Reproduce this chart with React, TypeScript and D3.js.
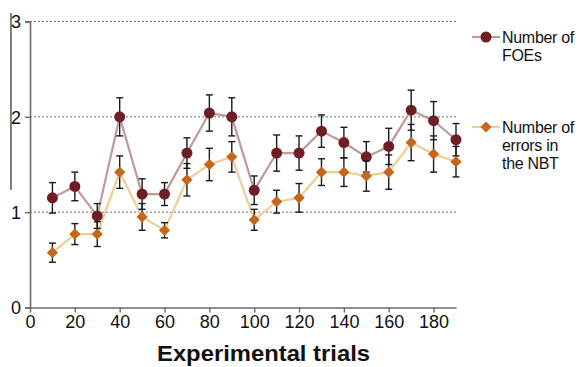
import { useEffect, useRef } from "react"
import * as d3 from "d3"

const trials = [10, 20, 30, 40, 50, 60, 70, 80, 90, 100, 110, 120, 130, 140, 150, 160, 170, 180, 190]
const foeMean = [1.15, 1.27, 0.96, 2.0, 1.19, 1.19, 1.62, 2.04, 2.0, 1.23, 1.62, 1.62, 1.85, 1.73, 1.58, 1.69, 2.07, 1.96, 1.76]
const foeErr = [0.16, 0.15, 0.13, 0.2, 0.16, 0.12, 0.16, 0.19, 0.2, 0.15, 0.19, 0.18, 0.17, 0.16, 0.16, 0.19, 0.21, 0.2, 0.17]
const nbtMean = [0.575, 0.77, 0.77, 1.42, 0.95, 0.81, 1.34, 1.5, 1.58, 0.92, 1.11, 1.15, 1.42, 1.42, 1.38, 1.42, 1.73, 1.61, 1.53]
const nbtErr = [0.1, 0.11, 0.13, 0.17, 0.14, 0.08, 0.17, 0.17, 0.16, 0.11, 0.12, 0.15, 0.14, 0.15, 0.16, 0.18, 0.19, 0.19, 0.16]
const xTicks = [0, 20, 40, 60, 80, 100, 120, 140, 160, 180]
const yTicks = [0, 1, 2, 3]

interface Series {
  mean: number[]
  err: number[]
  line: string
  fill: string
  shape: "circle" | "diamond"
  label: string[]
}

const series: Series[] = [
  { mean: foeMean, err: foeErr, line: "#bf9a9d", fill: "#6e1e24", shape: "circle", label: ["Number of", "FOEs"] },
  { mean: nbtMean, err: nbtErr, line: "#f2cc96", fill: "#c4661c", shape: "diamond", label: ["Number of", "errors in", "the NBT"] },
]

const App = () => {
  const svgRef = useRef<SVGSVGElement | null>(null)

  useEffect(() => {
    if (!svgRef.current) return
    const svg = d3.select(svgRef.current)
    svg.selectAll("*").remove()

    const x = d3.scaleLinear().domain([0, 190]).range([30, 456])
    const y = d3.scaleLinear().domain([0, 3]).range([307.5, 21.5])
    const font = "Arial, 'Liberation Sans', sans-serif"

    // stray line at the left edge
    svg.append("line").attr("x1", 11).attr("x2", 11).attr("y1", 13).attr("y2", 190)
      .attr("stroke", "#555").attr("stroke-width", 1.5)

    // grid
    svg.append("g").selectAll("line").data([1, 2, 3]).join("line")
      .attr("x1", x(0)).attr("x2", x(190))
      .attr("y1", (d) => y(d)).attr("y2", (d) => y(d))
      .attr("stroke", "#777").attr("stroke-width", 1).attr("stroke-dasharray", "2,2")

    // axes
    const yAxis = svg.append("g").attr("transform", `translate(${x(0)},0)`)
      .call(d3.axisLeft(y).tickValues(yTicks).tickSize(5).tickFormat(d3.format("d")))
    const xAxis = svg.append("g").attr("transform", `translate(0,${y(0)})`)
      .call(d3.axisBottom(x).tickValues(xTicks).tickSize(5).tickSizeOuter(0).tickFormat(d3.format("d")))
    ;[xAxis, yAxis].forEach((a) => {
      a.select(".domain").attr("stroke", "#6a6a6a").attr("stroke-width", 1.6)
      a.selectAll(".tick line").attr("stroke", "#6a6a6a").attr("stroke-width", 1.4)
      a.selectAll("text").attr("font-family", font).attr("font-size", 18).attr("fill", "#111")
    })
    yAxis.selectAll("text").attr("x", -9).attr("dy", "0.36em")
    xAxis.selectAll("text").attr("y", 8)

    svg.append("text").attr("x", 157).attr("y", 361)
      .attr("font-family", font).attr("font-size", 22).attr("font-weight", "bold").attr("fill", "#111")
      .attr("textLength", 213).attr("lengthAdjust", "spacingAndGlyphs")
      .text("Experimental trials")

    const drawMarker = (g: d3.Selection<SVGGElement, unknown, null, undefined>, s: Series, cx: number, cy: number) => {
      if (s.shape === "circle") {
        g.append("circle").attr("cx", cx).attr("cy", cy).attr("r", 5.5).attr("fill", s.fill)
      } else {
        g.append("path").attr("d", d3.symbol().type(d3.symbolDiamond2).size(80)())
          .attr("transform", `translate(${cx},${cy})`).attr("fill", s.fill)
      }
    }

    // lines first
    series.forEach((s) => {
      const line = d3.line<number>().x((_, i) => x(trials[i])).y((d) => y(d))
      svg.append("path").attr("d", line(s.mean)).attr("fill", "none")
        .attr("stroke", s.line).attr("stroke-width", 2.2)
    })

    // error bars and markers
    series.forEach((s) => {
      const g = svg.append("g")
      s.mean.forEach((m, i) => {
        const cx = x(trials[i])
        const top = y(m + s.err[i])
        const bot = y(m - s.err[i])
        g.append("line").attr("x1", cx).attr("x2", cx).attr("y1", top).attr("y2", bot).attr("stroke", "#1a1a1a").attr("stroke-width", 1.4)
        ;[top, bot].forEach((yy) => {
          g.append("line").attr("x1", cx - 3.5).attr("x2", cx + 3.5).attr("y1", yy).attr("y2", yy).attr("stroke", "#1a1a1a").attr("stroke-width", 1.4)
        })
      })
      s.mean.forEach((m, i) => drawMarker(g, s, x(trials[i]), y(m)))
    })

    // legend
    const legendY = [37, 127]
    series.forEach((s, k) => {
      const g = svg.append("g")
      const ly = legendY[k]
      g.append("line").attr("x1", 472).attr("x2", 500).attr("y1", ly).attr("y2", ly).attr("stroke", s.line).attr("stroke-width", 2.2)
      drawMarker(g, s, 486, ly)
      s.label.forEach((t, j) => {
        g.append("text").attr("x", 502).attr("y", ly + 6 + j * 18).attr("font-family", font)
          .attr("font-size", 16).attr("fill", "#111").attr("letter-spacing", -0.3).text(t)
      })
    })
  }, [])

  return (
    <div style={{ position: "absolute", left: 0, top: 0 }}>
      <svg ref={svgRef} width={580} height={367} style={{ display: "block" }} />
    </div>
  )
}

export default App
